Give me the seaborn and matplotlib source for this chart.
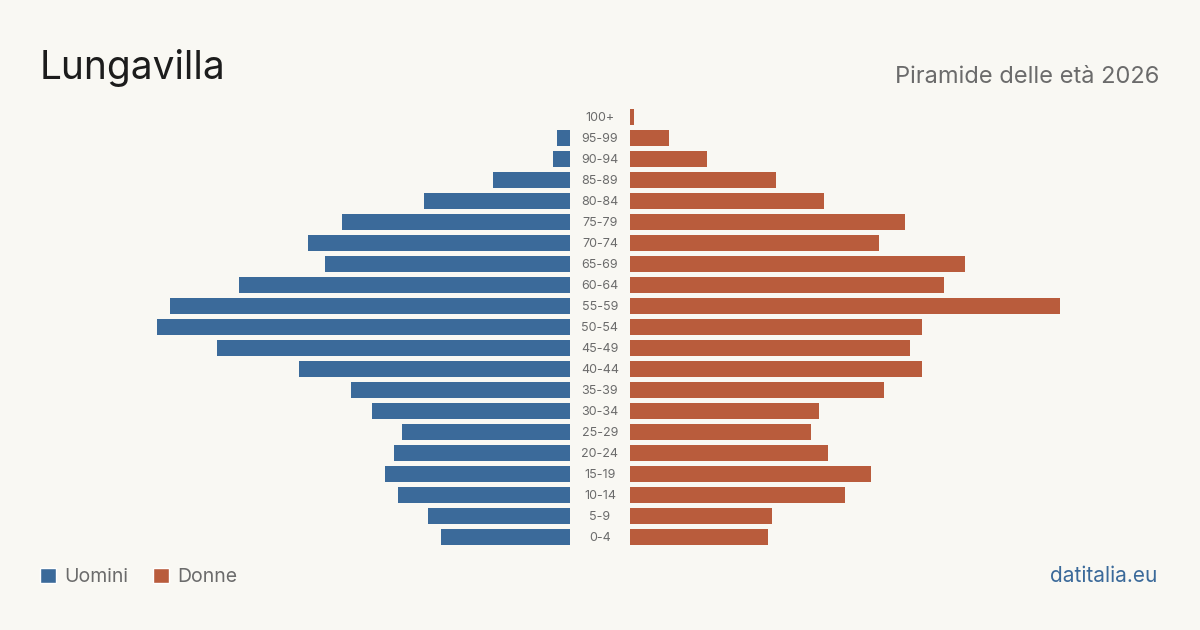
import matplotlib
matplotlib.use("Agg")
import matplotlib.pyplot as plt
import matplotlib.transforms as mtransforms
from matplotlib.patches import Patch
import seaborn as sns
import pandas as pd

# Population pyramid for Lungavilla, 2026
AGE_GROUPS = [
    "100+", "95-99", "90-94", "85-89", "80-84", "75-79", "70-74",
    "65-69", "60-64", "55-59", "50-54", "45-49", "40-44", "35-39",
    "30-34", "25-29", "20-24", "15-19", "10-14", "5-9", "0-4",
]
MEN = [0, 3, 4, 18, 34, 53, 61, 57, 77, 93, 96, 82, 63, 51, 46, 39, 41, 43, 40, 33, 30]
WOMEN = [1, 9, 18, 34, 45, 64, 58, 78, 73, 100, 68, 65, 68, 59, 44, 42, 46, 56, 50, 33, 32]

TITLE = "Lungavilla"
SUBTITLE = "Piramide delle età 2026"
SOURCE = "datitalia.eu"

BLUE = "#3b6a9a"
ORANGE = "#b95c3c"
BG = "#f9f8f3"
GREY = "#6b6b6b"
FONT = ["Inter", "DejaVu Sans"]

df = pd.DataFrame({"age": AGE_GROUPS, "men": MEN, "women": WOMEN})

sns.set_theme(style="white")
plt.rcParams["font.family"] = FONT

W, H = 1200, 630
fig = plt.figure(figsize=(W / 100, H / 100), dpi=100, facecolor=BG)

# axes geometry in pixels
top_px, bottom_px = 106.5, 547.5
half_w = 530
x_max = half_w / 4.3
ax_b = (H - bottom_px) / H
ax_h = (bottom_px - top_px) / H

ax_l = fig.add_axes([40 / W, ax_b, half_w / W, ax_h])
ax_r = fig.add_axes([630 / W, ax_b, half_w / W, ax_h])

sns.barplot(data=df, x="men", y="age", order=AGE_GROUPS, color=BLUE,
            saturation=1, width=0.8, linewidth=0, edgecolor="none", ax=ax_l)
sns.barplot(data=df, x="women", y="age", order=AGE_GROUPS, color=ORANGE,
            saturation=1, width=0.8, linewidth=0, edgecolor="none", ax=ax_r)

ax_l.set_xlim(x_max, 0)
ax_r.set_xlim(0, x_max)
for ax in (ax_l, ax_r):
    ax.set_facecolor("none")
    ax.set_xlabel("")
    ax.set_ylabel("")
    ax.set_xticks([])
    ax.set_yticks([])
    sns.despine(ax=ax, left=True, bottom=True)

# age labels in the gap between the two halves
trans = mtransforms.blended_transform_factory(fig.transFigure, ax_r.transData)
for i, age in enumerate(AGE_GROUPS):
    fig.text(0.5, i + 0.05, age, transform=trans, ha="center", va="center",
             fontsize=9, color=GREY)

fig.text(40 / W, 1 - 68 / H, TITLE, fontsize=28, color="#1c1c1c",
         ha="left", va="center")
fig.text(1159 / W, 1 - 77 / H, SUBTITLE, fontsize=17, color=GREY,
         ha="right", va="center")
fig.text(1157 / W, 1 - 576 / H, SOURCE, fontsize=15, color=BLUE,
         ha="right", va="center")

handles = [Patch(facecolor=BLUE, label="Uomini"), Patch(facecolor=ORANGE, label="Donne")]
fig.legend(handles=handles, loc="center left", bbox_to_anchor=(40 / W, 1 - 577 / H),
           ncol=2, frameon=False, fontsize=14, labelcolor=GREY,
           handlelength=0.8, handleheight=0.84, handletextpad=0.44,
           columnspacing=1.3, borderpad=0, borderaxespad=0)

fig.savefig("out.png", dpi=100, facecolor=BG)
